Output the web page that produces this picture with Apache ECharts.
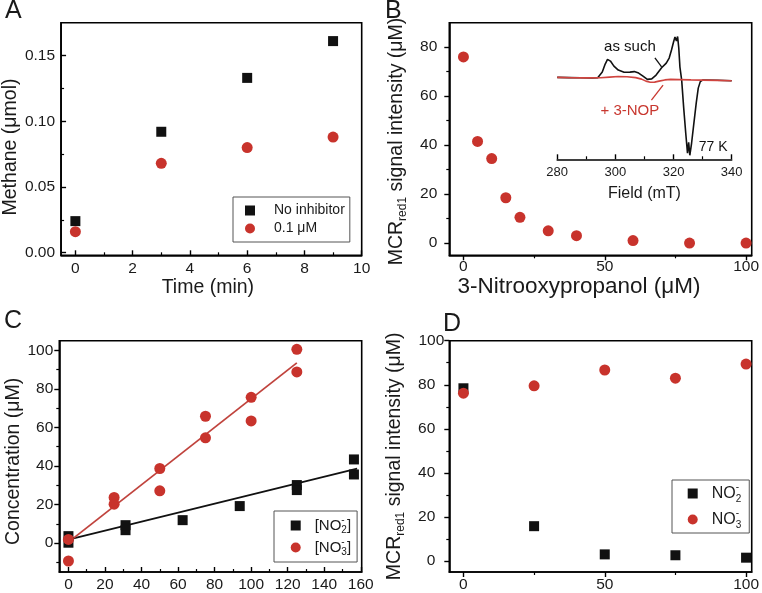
<!DOCTYPE html>
<html><head><meta charset="utf-8">
<script src="https://cdn.jsdelivr.net/npm/echarts@6/dist/echarts.min.js"></script>
<style>html,body{margin:0;padding:0;background:#fff}#c{width:762px;height:593px}</style>
</head><body><div id="c"></div>
<script>
// ---------- Panel A ----------
const aTime = [0, 3, 6, 9];
const aNoInhibitor = [0.024, 0.092, 0.133, 0.161];
const aInhibitor = [0.016, 0.068, 0.080, 0.088];
const aXTicks = [0, 2, 4, 6, 8, 10];
const aXMinor = [1, 3, 5, 7, 9];
const aYTicks = [0, 0.05, 0.10, 0.15];
const aYMinor = [0.025, 0.075, 0.125];
// ---------- Panel B ----------
const bNop = [0, 5, 10, 15, 20, 30, 40, 60, 80, 100];
const bSignal = [76, 41.5, 34.5, 18.5, 10.5, 5, 3, 1, 0, 0];
const bXTicks = [0, 50, 100];
const bXMinor = [25, 75];
const bYTicks = [0, 20, 40, 60, 80];
const bYMinor = [10, 30, 50, 70];
// inset EPR spectra
const insetFieldBlack = [280,284,288,292,294,295.5,296.5,297.3,298.3,299.5,301,303,305,306.5,308,309.5,311,312.5,314,315.9,317.5,318.5,319.3,320,320.5,321,321.4,321.8,322.2,322.8,323.5,324.2,324.8,325.2,325.6,326.2,327,327.8,328.5,329.2,330,335,340];
const insetSignalBlack = [0.7,0.5,0.3,0.1,0.5,6,14,18.7,17,12,8,5.8,6,6.5,5,2,-1.3,-0.8,3,10.3,15,20,28,36,41,37,41.5,30,11,-2,-30,-55,-75,-64,-77,-65,-45,-25,-10,-3.5,-2,-2.2,-2.7];
const insetFieldRed = [280,285,290,295,298,301,304,307,309,310.5,312,313.5,315,317,319,322,326,330,335,340];
const insetSignalRed = [0.7,0.4,0.2,0.3,1,1.6,1.4,0.5,-1,-3,-4.2,-4,-3,-1.8,-1.3,-1.5,-1.8,-2,-2.3,-2.7];
const insetTicks = [280, 300, 320, 340];
const insetMinor = [290, 310, 330];
// ---------- Panel C ----------
const cNitriteX = [0, 0, 31.25, 31.25, 62.5, 93.75, 125, 125, 156.25, 156.25];
const cNitriteY = [0.2, 3.6, 6.7, 9.3, 11.9, 19.2, 30.1, 27.5, 43.4, 35.6];
const cNitrateX = [0, 0, 25, 25, 50, 50, 75, 75, 100, 100, 125, 125];
const cNitrateY = [1.9, -9.3, 23.7, 20.2, 38.7, 27.1, 65.8, 54.6, 75.6, 63.4, 100.5, 88.8];
const cNitriteFitX = [0, 158];
const cNitriteFitY = [1.8, 38.6];
const cNitrateFitX = [0, 125];
const cNitrateFitY = [0.5, 93.5];
const cXTicks = [0, 20, 40, 60, 80, 100, 120, 140, 160];
const cXMinor = [10, 30, 50, 70, 90, 110, 130, 150];
const cYTicks = [0, 20, 40, 60, 80, 100];
const cYMinor = [-10, 10, 30, 50, 70, 90];
// ---------- Panel D ----------
const dConc = [0, 25, 50, 75, 100];
const dNitrite = [78.4, 15.8, 3, 2.6, 1.5];
const dNitrate = [76.2, 79.5, 86.7, 83, 89.4];
const dXTicks = [0, 50, 100];
const dXMinor = [25, 75];
const dYTicks = [0, 20, 40, 60, 80, 100];
const dYMinor = [10, 30, 50, 70, 90];

const SANS = "'Liberation Sans',Arial,Helvetica,sans-serif";
const BLACK = '#111111', RED = '#c8332c', INK = '#1a1a1a';
const TICK_FS = 15.5;

const xAxes = [], yAxes = [];
function addAxes(list, dim, grid, min, max, majors, minors, o) {
  const pos = dim === 'x' ? 'bottom' : 'left';
  list.push({
    type: 'value', gridIndex: grid, min: min, max: max, position: pos,
    axisLine: { show: true, onZero: false, lineStyle: { color: '#000', width: 1.6 } },
    axisTick: { show: true, inside: o.inside, length: 5, customValues: majors, lineStyle: { color: '#000', width: 1.4 } },
    axisLabel: { show: true, customValues: majors, margin: o.margin, formatter: o.fmt, color: INK,
      fontFamily: SANS, fontSize: o.fs || TICK_FS, rich: o.rich },
    splitLine: { show: false },
    name: o.name, nameLocation: 'middle', nameGap: o.nameGap, nameTextStyle: o.nameStyle
  });
  list.push({
    type: 'value', gridIndex: grid, min: min, max: max, position: pos,
    axisLine: { show: false, onZero: false },
    axisTick: { show: true, inside: o.inside, length: 3, customValues: minors, lineStyle: { color: '#000', width: 1.2 } },
    axisLabel: { show: false }, splitLine: { show: false }
  });
  return list.length - 2;
}
const intFmt = v => String(Math.round(v));
const titleStyle = (fs, pad) => ({ fontFamily: SANS, fontSize: fs, color: INK, padding: pad });
const mcrName = '{m|MCR}{s|red1}{m| signal intensity (μM)}';
const mcrStyle = pad => ({ padding: pad, rich: {
  m: { fontFamily: SANS, fontSize: 19.5, color: INK, lineHeight: 24 },
  s: { fontFamily: SANS, fontSize: 12, color: INK, lineHeight: 13, verticalAlign: 'bottom' } } });

// A
const axA = addAxes(xAxes, 'x', 0, -0.5, 10, aXTicks, aXMinor, { inside: true, margin: 5, fmt: intFmt,
  name: 'Time (min)', nameGap: 20, nameStyle: titleStyle(19.5, [0, 7, 0, 0]) });
const ayA = addAxes(yAxes, 'y', 0, -0.002, 0.175, aYTicks, aYMinor, { inside: true, margin: 6, fmt: v => v.toFixed(2),
  name: 'Methane (μmol)', nameGap: 36, nameStyle: titleStyle(19.5, [0, 16, 0, 0]) });
// B
const axB = addAxes(xAxes, 'x', 1, -5, 102, bXTicks, bXMinor, { inside: false, margin: 3, fmt: intFmt,
  name: '3-Nitrooxypropanol (μM)', nameGap: 10, nameStyle: titleStyle(22.5, [0, 43, 0, 0]) });
const ayB = addAxes(yAxes, 'y', 1, -5, 90, bYTicks, bYMinor, { inside: false, margin: 12, fmt: intFmt,
  name: mcrName, nameGap: 41, nameStyle: mcrStyle([0, 5, 0, 0]) });
// C
const axC = addAxes(xAxes, 'x', 2, -5, 160.5, cXTicks, cXMinor, { inside: true, margin: 5, fmt: intFmt });
const ayC = addAxes(yAxes, 'y', 2, -15, 105, cYTicks, cYMinor, { inside: false, margin: 6, fmt: intFmt,
  name: 'Concentration (μM)', nameGap: 35, nameStyle: titleStyle(19.5, [0, 10, 0, 0]) });
// D
const axD = addAxes(xAxes, 'x', 3, -5, 102, dXTicks, dXMinor, { inside: false, margin: 5, fmt: intFmt });
const ayD = addAxes(yAxes, 'y', 3, -5, 100, dYTicks, dYMinor, { inside: false, margin: 5,
  fmt: v => v === 100 ? '{a|100}' : '{b|' + Math.round(v) + '}',
  rich: { a: { fontFamily: SANS, fontSize: TICK_FS, color: INK }, b: { fontFamily: SANS, fontSize: TICK_FS, color: INK, padding: [0, 9, 0, 0] } },
  name: mcrName, nameGap: 43, nameStyle: mcrStyle([0, 0, 0, 0]) });
// inset
const axI = addAxes(xAxes, 'x', 4, 280, 340, insetTicks, insetMinor, { inside: true, margin: 7, fmt: intFmt, fs: 13,
  name: 'Field (mT)', nameGap: 26, nameStyle: titleStyle(16, [0, 0, 0, 0]) });
yAxes.push({ type: 'value', gridIndex: 4, min: -81, max: 48, show: false });
const ayI = yAxes.length - 1;

const zip = (xs, ys) => xs.map((x, i) => [x, ys[i]]);
const sq = (name, xi, yi, data, size) => ({ name: name, type: 'scatter', xAxisIndex: xi, yAxisIndex: yi, data: data,
  symbol: 'rect', symbolSize: size || 10, itemStyle: { color: BLACK, opacity: 1 }, z: 3 });
const ci = (name, xi, yi, data, size) => ({ name: name, type: 'scatter', xAxisIndex: xi, yAxisIndex: yi, data: data,
  symbol: 'circle', symbolSize: size || 11, itemStyle: { color: RED, opacity: 1 }, z: 4 });
const ln = (name, xi, yi, data, color, w) => ({ name: name, type: 'line', xAxisIndex: xi, yAxisIndex: yi, data: data,
  showSymbol: false, symbol: 'none', lineStyle: { color: color, width: w || 1.8 }, z: 2 });

const noteLabel = { show: true, position: 'inside', formatter: '{b}', fontFamily: SANS, fontSize: 15 };
const legendBase = { orient: 'vertical', itemWidth: 10, itemHeight: 10, borderColor: '#555', borderWidth: 1 };
const legendRich = {
  n: { fontFamily: SANS, fontSize: 15, color: INK, lineHeight: 20 },
  p: { fontFamily: SANS, fontSize: 10, color: INK, lineHeight: 10, verticalAlign: 'top', width: 0 },
  s: { fontFamily: SANS, fontSize: 10, color: INK, lineHeight: 10, verticalAlign: 'bottom' } };

const option = {
  animation: false,
  backgroundColor: '#fff',
  title: [
    { text: 'A', left: 5, top: -1, padding: 0, textStyle: { fontFamily: SANS, fontSize: 25, fontWeight: 'normal', color: INK } },
    { text: 'B', left: 385, top: -1, padding: 0, textStyle: { fontFamily: SANS, fontSize: 25, fontWeight: 'normal', color: INK } },
    { text: 'C', left: 4, top: 309, padding: 0, textStyle: { fontFamily: SANS, fontSize: 25, fontWeight: 'normal', color: INK } },
    { text: 'D', left: 443, top: 312, padding: 0, textStyle: { fontFamily: SANS, fontSize: 25, fontWeight: 'normal', color: INK } }
  ],
  grid: [
    { left: 59, top: 22.7, width: 302.7, height: 232.6, show: true, borderColor: '#000', borderWidth: 1.6 },
    { left: 449.3, top: 22.7, width: 303.4, height: 232.6, show: true, borderColor: '#000', borderWidth: 1.6 },
    { left: 59.3, top: 340.7, width: 302.4, height: 232, show: true, borderColor: '#000', borderWidth: 1.6 },
    { left: 449.3, top: 340.7, width: 302.7, height: 232, show: true, borderColor: '#000', borderWidth: 1.6 },
    { left: 557.2, top: 30, width: 174.5, height: 129.3, show: false }
  ],
  xAxis: xAxes,
  yAxis: yAxes,
  legend: [
    Object.assign({}, legendBase, { left: 233, top: 197, padding: [5.5, 5, 5.5, 12], itemGap: 2,
      data: [{ name: 'No inhibitor', icon: 'rect' }, { name: '0.1 μM', icon: 'circle' }],
      textStyle: { fontFamily: SANS, fontSize: 14, color: INK, lineHeight: 16, padding: [0, 0, 0, 14] } }),
    Object.assign({}, legendBase, { left: 274, top: 511, padding: [4.5, 6, 4.5, 16.7], itemGap: 2,
      data: [{ name: 'C nitrite', icon: 'rect' }, { name: 'C nitrate', icon: 'circle' }],
      formatter: n => n === 'C nitrite' ? '{n|[NO}{p|-}{s|2}{n|]}' : '{n|[NO}{p|-}{s|3}{n|]}',
      textStyle: { fontFamily: SANS, fontSize: 15, color: INK, padding: [0, 0, 0, 9], rich: legendRich } }),
    Object.assign({}, legendBase, { left: 672, top: 480, padding: [2.5, 8, 2.5, 15.7], itemGap: 4,
      data: [{ name: 'D nitrite', icon: 'rect' }, { name: 'D nitrate', icon: 'circle' }],
      formatter: n => n === 'D nitrite' ? '{n|NO}{p|-}{s|2}' : '{n|NO}{p|-}{s|3}',
      textStyle: { fontFamily: SANS, fontSize: 15, color: INK, padding: [0, 0, 0, 9],
        rich: Object.assign({}, legendRich, { n: { fontFamily: SANS, fontSize: 16, color: INK, lineHeight: 22 } }) } })
  ],
  series: [
    sq('No inhibitor', axA, ayA, zip(aTime, aNoInhibitor)),
    ci('0.1 μM', axA, ayA, zip(aTime, aInhibitor)),
    ci('B signal', axB, ayB, zip(bNop, bSignal)),
    Object.assign(ln('inset black', axI, ayI, zip(insetFieldBlack, insetSignalBlack), '#111', 1.6), {
      markLine: { silent: true, symbol: ['none', 'arrow'], symbolSize: [0, 8], label: { show: false },
        lineStyle: { color: '#111', width: 1.3, type: 'solid' },
        data: [[{ coord: [313.6, 20.3] }, { coord: [315.9, 11.3] }]] },
      markPoint: { silent: true, symbol: 'circle', symbolSize: 1, itemStyle: { color: 'rgba(0,0,0,0)' },
        label: Object.assign({}, noteLabel, { color: '#111' }),
        data: [{ name: 'as such', coord: [305, 31.3] }, { name: '77 K', coord: [333.6, -68.5], label: { fontSize: 14 } }] } }),
    Object.assign(ln('inset red', axI, ayI, zip(insetFieldRed, insetSignalRed), '#d0443f', 1.6), {
      z: 3,
      markLine: { silent: true, symbol: ['none', 'arrow'], symbolSize: [0, 8], label: { show: false },
        lineStyle: { color: '#c8372f', width: 1.3, type: 'solid' },
        data: [[{ coord: [312.4, -22] }, { coord: [316.4, -7] }]] },
      markPoint: { silent: true, symbol: 'circle', symbolSize: 1, itemStyle: { color: 'rgba(0,0,0,0)' },
        label: Object.assign({}, noteLabel, { color: '#c8372f' }),
        data: [{ name: '+ 3-NOP', coord: [305, -32.7] }] } }),
    ln('C nitrite fit', axC, ayC, zip(cNitriteFitX, cNitriteFitY), '#111', 1.8),
    ln('C nitrate fit', axC, ayC, zip(cNitrateFitX, cNitrateFitY), '#c0433d', 1.8),
    sq('C nitrite', axC, ayC, zip(cNitriteX, cNitriteY)),
    ci('C nitrate', axC, ayC, zip(cNitrateX, cNitrateY)),
    sq('D nitrite', axD, ayD, zip(dConc, dNitrite)),
    ci('D nitrate', axD, ayD, zip(dConc, dNitrate))
  ]
};
const chart = echarts.init(document.getElementById('c'), null, { renderer: 'canvas' });
chart.setOption(option);
</script>
</body></html>
